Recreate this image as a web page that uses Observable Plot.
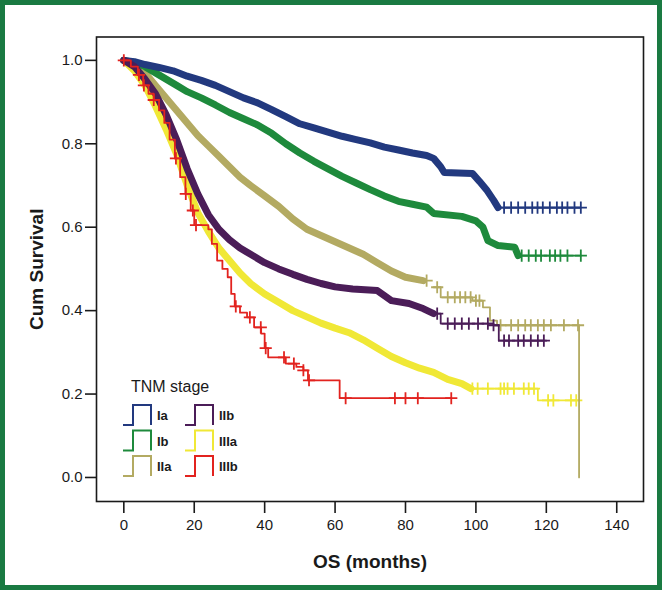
<!DOCTYPE html>
<html><head><meta charset="utf-8">
<script src="https://cdn.jsdelivr.net/npm/d3@7"></script>
<script src="https://cdn.jsdelivr.net/npm/@observablehq/plot@0.6"></script>
<style>
html,body{margin:0;padding:0;background:#fff;}
#chart{position:absolute;left:0;top:0;}
#legend{position:absolute;left:0;top:0;pointer-events:none;}
#border{position:absolute;left:0;top:0;width:662px;height:590px;box-sizing:border-box;border:5px solid #1a7a42;pointer-events:none;}
</style></head><body>
<div id="chart"></div><svg id="legend" width="662" height="590"></svg><div id="border"></div>
<script>
// ---- data ----
const stages = ["Ia", "Ib", "IIa", "IIb", "IIIa", "IIIb"];
const colors = ["#22397f", "#1e8a3c", "#b3aa62", "#4b1d58", "#f0e836", "#e2231f"];
const xTicks = [0, 20, 40, 60, 80, 100, 120, 140];
const yTicks = [0, 0.2, 0.4, 0.6, 0.8, 1.0];

const tIa = [0, 3, 6, 10, 14, 18, 22, 26, 30, 34, 38, 42, 46, 50, 54, 58, 62, 66, 70, 74, 78, 82, 86, 88, 90, 91, 99, 101, 103, 105, 106.3, 129.8];
const sIa = [1, 0.997, 0.99, 0.983, 0.975, 0.962, 0.952, 0.94, 0.925, 0.91, 0.898, 0.882, 0.865, 0.848, 0.838, 0.828, 0.818, 0.81, 0.802, 0.792, 0.785, 0.778, 0.772, 0.765, 0.745, 0.731, 0.729, 0.71, 0.69, 0.665, 0.647, 0.647];
const cIa = [108, 110, 112, 114, 116, 117.5, 119, 121, 123, 124.5, 126, 128, 129.8];

const tIb = [0, 3, 6, 9, 12, 15, 18, 22, 26, 30, 34, 38, 42, 46, 50, 54, 58, 62, 66, 70, 74, 78, 82, 86, 88, 96, 100, 102, 103.4, 106.3, 111, 112, 129.8];
const sIb = [1, 0.995, 0.985, 0.97, 0.955, 0.94, 0.925, 0.91, 0.893, 0.875, 0.86, 0.845, 0.825, 0.8, 0.778, 0.758, 0.74, 0.722, 0.706, 0.69, 0.675, 0.662, 0.655, 0.648, 0.633, 0.626, 0.615, 0.6, 0.568, 0.556, 0.552, 0.532, 0.532];
const cIb = [113, 115, 117, 118.5, 121, 122.5, 124, 126, 129.8];

const tIIa = [0, 3, 6, 9, 12, 15, 18, 21, 24, 27, 30, 33, 36, 40, 44, 48, 52, 56, 60, 64, 68, 72, 76, 80, 85, 88, 90, 99, 102, 104, 106, 129.3, 129.3];
const sIIa = [1, 0.99, 0.97, 0.94, 0.91, 0.88, 0.85, 0.82, 0.795, 0.77, 0.745, 0.72, 0.7, 0.675, 0.65, 0.62, 0.595, 0.58, 0.565, 0.55, 0.535, 0.515, 0.495, 0.48, 0.472, 0.456, 0.432, 0.424, 0.408, 0.376, 0.365, 0.365, 0];
const cIIa = [86, 89, 92, 94, 95.5, 97, 98.5, 100, 101, 107, 110, 112, 114, 115.6, 117.6, 119.3, 121.3, 125, 129];

const tIIb = [0, 3, 6, 9, 12, 15, 18, 21, 24, 27, 30, 33, 36, 40, 44, 48, 52, 56, 60, 65, 72, 76, 81, 85, 88, 90, 105, 106.5, 120];
const sIIb = [1, 0.985, 0.955, 0.92, 0.87, 0.81, 0.74, 0.68, 0.63, 0.595, 0.57, 0.55, 0.535, 0.515, 0.5, 0.487, 0.475, 0.465, 0.457, 0.452, 0.448, 0.424, 0.417, 0.405, 0.393, 0.369, 0.365, 0.328, 0.328];
const cIIb = [89, 92, 94, 96, 98, 100.6, 103.4, 105, 108, 109.4, 112, 113.6, 115.6, 117.6, 119.3];

const tIIIa = [0, 3, 6, 9, 12, 15, 18, 21, 24, 27, 30, 33, 36, 40, 44, 48, 52, 56, 60, 64, 68, 72, 76, 80, 84, 88, 92, 96, 98.6, 117, 117.6, 129.3];
const sIIIa = [1, 0.975, 0.94, 0.89, 0.835, 0.775, 0.7, 0.635, 0.59, 0.55, 0.52, 0.49, 0.465, 0.44, 0.42, 0.4, 0.385, 0.37, 0.358, 0.347, 0.33, 0.31, 0.29, 0.275, 0.262, 0.252, 0.235, 0.225, 0.213, 0.213, 0.185, 0.185];
const cIIIa = [99, 100.5, 103.4, 107, 108, 109, 110.8, 113.6, 115, 116.5, 120.5, 122, 127, 128.5];

const tIIIb = [0, 2, 4, 5.5, 7, 8.5, 10, 11.5, 13, 14.5, 16, 17.5, 19, 20, 24, 25, 26.5, 28, 29.5, 30.5, 31.5, 33, 35, 37, 39, 40, 41, 46, 49, 51, 52.3, 61.3, 93];
const sIIIb = [1, 0.985, 0.965, 0.94, 0.92, 0.905, 0.88, 0.85, 0.81, 0.765, 0.72, 0.68, 0.64, 0.605, 0.595, 0.56, 0.52, 0.5, 0.48, 0.44, 0.41, 0.395, 0.384, 0.36, 0.345, 0.31, 0.288, 0.273, 0.265, 0.257, 0.233, 0.19, 0.19];
const cIIIb = [0, 4.3, 5.7, 8.5, 14.8, 17.6, 19.6, 20.5, 31.8, 35.8, 38.9, 40.3, 45.5, 48.3, 51, 52.6, 63, 77, 80, 83.5, 93];

// months up to which censoring is so dense that the curve reads as a thick band
const denseUntil = [106.3, 112, 86, 88, 98.6, 0];

const times = [tIa, tIb, tIIa, tIIb, tIIIa, tIIIb];
const survs = [sIa, sIb, sIIa, sIIb, sIIIa, sIIIb];
const censors = [cIa, cIb, cIIa, cIIb, cIIIa, cIIIb];

// ---- build tables ----
function stepAt(t, s, m) {
  let v = s[0];
  for (let i = 0; i < t.length; i++) { if (t[i] <= m) v = s[i]; else break; }
  return v;
}
const drawOrder = [4, 2, 1, 0, 3, 5];
const marks = [];
for (const k of drawOrder) {
  const pts = times[k].map((m, i) => ({m, s: survs[k][i]}));
  const cen = censors[k].map(m => ({m, s: stepAt(times[k], survs[k], m)}));
  const col = colors[k];
  const tail = pts.filter(d => d.m >= denseUntil[k]);
  const dense = pts.filter(d => d.m <= denseUntil[k]);
  marks.push(Plot.line(tail, {x: "m", y: "s", stroke: col, strokeWidth: 1.8, curve: "step-after"}));
  if (dense.length > 1) marks.push(Plot.line(dense, {x: "m", y: "s", stroke: col, strokeWidth: 7, curve: "linear", strokeLinejoin: "round", strokeLinecap: "round"}));
  marks.push(Plot.dot(cen, {x: "m", y: "s", symbol: "plus", r: 4, stroke: col, strokeWidth: 1.8}));
}

const chart = Plot.plot({
  width: 662, height: 590,
  marginLeft: 96, marginRight: 19, marginTop: 36.5, marginBottom: 89,
  x: {domain: [-7.76, 147.6]},
  y: {domain: [-0.0576, 1.056]},
  style: {fontFamily: "'Liberation Sans', Arial, sans-serif", background: "transparent", color: "#1a1a1a"},
  marks: [
    Plot.axisX({ticks: xTicks, tickSize: 12, tickPadding: 6, fontSize: 15, label: null, strokeWidth: 1.6}),
    Plot.axisY({ticks: yTicks, tickSize: 11, tickPadding: 3, fontSize: 15, label: null, strokeWidth: 1.6, tickFormat: d3.format(".1f")}),
    ...marks,
    Plot.frame({stroke: "#1a1a1a", strokeWidth: 1.6}),
    Plot.text(["OS (months)"], {frameAnchor: "bottom", dy: 60, fontSize: 19, fontWeight: "bold", textAnchor: "middle", lineAnchor: "middle", fill: "#1a1a1a"}),
    Plot.text(["Cum Survival"], {frameAnchor: "left", dx: -60, rotate: -90, fontSize: 19, fontWeight: "bold", textAnchor: "middle", lineAnchor: "middle", fill: "#1a1a1a"})
  ]
});
document.getElementById("chart").appendChild(chart);

// ---- legend (inside the plot frame, bottom-left) ----
const lg = d3.select("#legend").style("font-family", "'Liberation Sans', Arial, sans-serif");
lg.append("text").attr("x", 131).attr("y", 392).attr("font-size", 16).attr("fill", "#1a1a1a").text("TNM stage");
stages.forEach((name, i) => {
  const col = Math.floor(i / 3), row = i % 3;
  const x0 = 123 + col * 62, top = 405 + row * 25.5;
  lg.append("path")
    .attr("d", `M${x0},${top + 20}H${x0 + 10}V${top}H${x0 + 28}V${top + 20}`)
    .attr("fill", "none").attr("stroke", colors[i]).attr("stroke-width", 2);
  lg.append("text").attr("x", x0 + 34).attr("y", top + 15).attr("font-size", 13)
    .attr("font-weight", "bold").attr("fill", "#1a1a1a").text(name);
});
</script>
</body></html>
